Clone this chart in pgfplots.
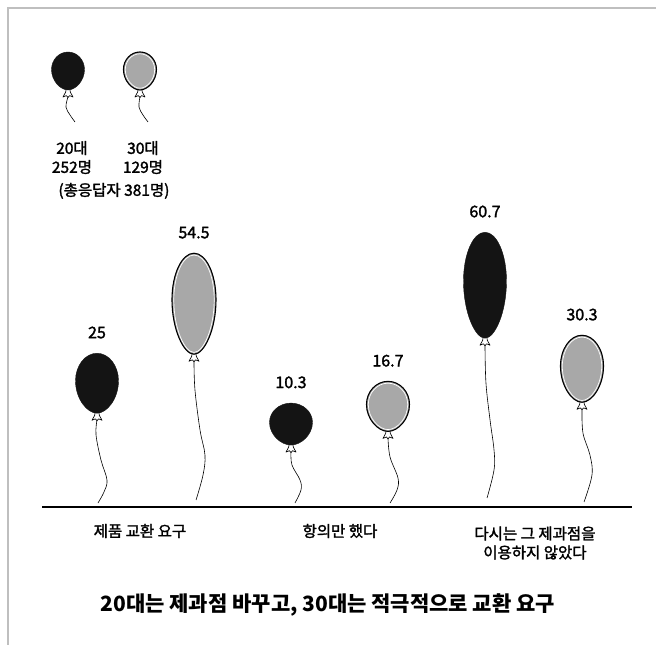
\documentclass[border=0pt]{standalone}
\usepackage{pgfplots}
\pgfplotsset{compat=1.18}
\usepackage{fontspec}
\setmainfont{Noto Sans CJK KR}
\newfontfamily\medfont{Noto Sans CJK KR}[FakeBold=1.8]
\definecolor{balblack}{HTML}{141414}
\definecolor{balgray}{HTML}{A8A8A8}
\pgfdeclareplotmark{nothing}{}
% egg: #1 = x radius, #2 = height, #3 = top offset (numbers, pt)
\newcommand{\eggcalc}[3]{%
  \pgfmathsetmacro\er{#1}%
  \pgfmathsetmacro\et{#3}%
  \pgfmathsetmacro\ea{0.552*#1}%
  \pgfmathsetmacro\eb{0.46*#1}%
  \pgfmathsetmacro\ey{#3-0.46*#2}%
  \pgfmathsetmacro\ec{#3-0.206*#2}%
  \pgfmathsetmacro\ed{#3-0.758*#2}%
  \pgfmathsetmacro\ee{#3-#2}}
\newcommand{\eggpath}{%
  (0pt,\et pt) .. controls (\ea pt,\et pt) and (\er pt,\ec pt) .. (\er pt,\ey pt)
  .. controls (\er pt,\ed pt) and (\eb pt,\ee pt) .. (0pt,\ee pt)
  .. controls (-\eb pt,\ee pt) and (-\er pt,\ed pt) .. (-\er pt,\ey pt)
  .. controls (-\er pt,\ec pt) and (-\ea pt,\et pt) .. (0pt,\et pt) -- cycle}
\newcommand{\knot}{%
  \pgfmathsetmacro\by{-2*\ry}%
  \filldraw[fill=white, draw=black, line width=0.65pt, line join=round]
    (-1.8pt,\by pt+1.5pt) -- (-2.3pt,\by pt-2pt) -- (-5pt,\by pt-7pt) -- (-1.6pt,\by pt-5.6pt)
    -- (0pt,\by pt-7.5pt) -- (1.6pt,\by pt-5.6pt) -- (5pt,\by pt-7pt) -- (2.3pt,\by pt-2pt)
    -- (1.8pt,\by pt+1.5pt) -- cycle;}
\newcommand{\blackballoon}{%
  \knot
  \pgfmathsetmacro\hh{2*\ry}%
  \eggcalc{\rx}{\hh}{0}%
  \fill[balblack] \eggpath;}
\newcommand{\grayballoon}{%
  \knot
  \pgfmathsetmacro\hh{2*\ry}%
  \pgfmathsetmacro\irx{\rx-1.8}\pgfmathsetmacro\ihh{\hh-3.6}%
  \eggcalc{\rx}{\hh}{0}%
  \fill[balgray] \eggpath;
  \draw[black, line width=1.1pt] \eggpath;
  \eggcalc{\irx}{\ihh}{-1.8}%
  \draw[white, line width=0.7pt] \eggpath;}
\pgfplotsset{
  balloonbase/.style={only marks, scatter, mark=nothing, point meta=y,
    visualization depends on={\thisrow{rx} \as \rx},
    visualization depends on={\thisrow{ry} \as \ry},
    scatter/@post marker code/.code={}},
  valuelabels/.style={nodes near coords={\pgfmathprintnumber[fixed,precision=1]{\pgfplotspointmeta}},
    every node near coord/.append style={anchor=base, inner sep=0pt, yshift=15pt,
      font=\medfont\fontsize{16}{18}\selectfont, text=black}},
  stringline/.style={black, line width=0.6pt, smooth, tension=0.6, mark=none},
}
\begin{document}
\begin{tikzpicture}
\begin{axis}[
  width=656pt, height=645pt, scale only axis, hide axis, clip=false,
  xmin=-1, xmax=5.763, ymin=-61.06, ymax=129.20,
  /pgf/number format/assume math mode=true,
]
% frame
\draw[gray!50, line width=1.6pt] (axis cs:-0.918,-61.06) -- (axis cs:-0.918,126.84) -- (axis cs:5.763,126.84);
% baseline
\addplot[black, line width=2.2pt, mark=none] coordinates {(-0.567,-20.35) (5.515,-20.35)};
% strings
\addplot[stringline] coordinates {(0,5.31) (-0.010,0.88) (0.041,-6.49) (0.103,-12.39) (0.072,-15.93) (0.010,-19.17)};
\addplot[stringline] coordinates {(1.0,22.71) (1.010,14.16) (1.062,2.36) (1.113,-5.01) (1.093,-10.91) (1.021,-18.29)};
\addplot[stringline] coordinates {(2.0,-4.13) (2.010,-7.96) (2.093,-12.39) (2.103,-15.34) (2.041,-19.17)};
\addplot[stringline] coordinates {(3.0,0) (3.021,-5.60) (3.103,-11.80) (3.093,-15.34) (3.021,-19.17)};
\addplot[stringline] coordinates {(4.0,27.43) (4.010,16.22) (4.052,5.31) (4.093,-3.54) (4.093,-9.44) (4.021,-17.70)};
\addplot[stringline] coordinates {(5.0,8.55) (5.010,1.47) (5.082,-5.01) (5.103,-10.91) (5.021,-18.88)};
% legend strings
\addplot[stringline] coordinates {(-0.299,100.59) (-0.320,97.64) (-0.278,95.28) (-0.227,93.22)};
\addplot[stringline] coordinates {(0.443,100.59) (0.433,97.64) (0.474,95.28) (0.526,93.22)};
% balloons
\addplot[balloonbase, valuelabels, scatter/@pre marker code/.code={\blackballoon}] table {
x y rx ry
0 25 21.5 30
2 10.3 21.5 21
4 60.7 21.5 53
};
\addplot[balloonbase, valuelabels, scatter/@pre marker code/.code={\grayballoon}] table {
x y rx ry
1 54.5 22 50.5
3 16.7 21.5 25
5 30.3 21.5 33.5
};
\addplot[balloonbase, scatter/@pre marker code/.code={\blackballoon}] table {
x y rx ry
-0.299 113.86 16.5 19
};
\addplot[balloonbase, scatter/@pre marker code/.code={\grayballoon}] table {
x y rx ry
0.443 113.86 16.5 19
};
% legend text
\node[font=\medfont\fontsize{15.5}{18}\selectfont, align=center] at (axis cs:-0.258,82.73) {20대\\[1pt]252명};
\node[font=\medfont\fontsize{15.5}{18}\selectfont, align=center] at (axis cs:0.474,82.73) {30대\\[1pt]129명};
\node[font=\medfont\fontsize{15.5}{18}\selectfont] at (axis cs:0.175,72.9) {(총응답자 381명)};
% category labels
\node[font=\medfont\fontsize{15.5}{18}\selectfont] at (axis cs:0.443,-27.43) {제품 교환 요구};
\node[font=\medfont\fontsize{15.5}{18}\selectfont] at (axis cs:2.505,-27.43) {항의만 했다};
\node[font=\medfont\fontsize{15.5}{18}\selectfont, align=center] at (axis cs:4.515,-30.97) {다시는 그 제과점을\\[1pt]이용하지 않았다};
% title
\node[font=\fontsize{21}{24}\selectfont\bfseries] at (axis cs:2.38,-49.26) {20대는 제과점 바꾸고, 30대는 적극적으로 교환 요구};
\end{axis}
\pgfresetboundingbox
\path (current axis.south west) rectangle (current axis.north east);
\end{tikzpicture}
\end{document}
